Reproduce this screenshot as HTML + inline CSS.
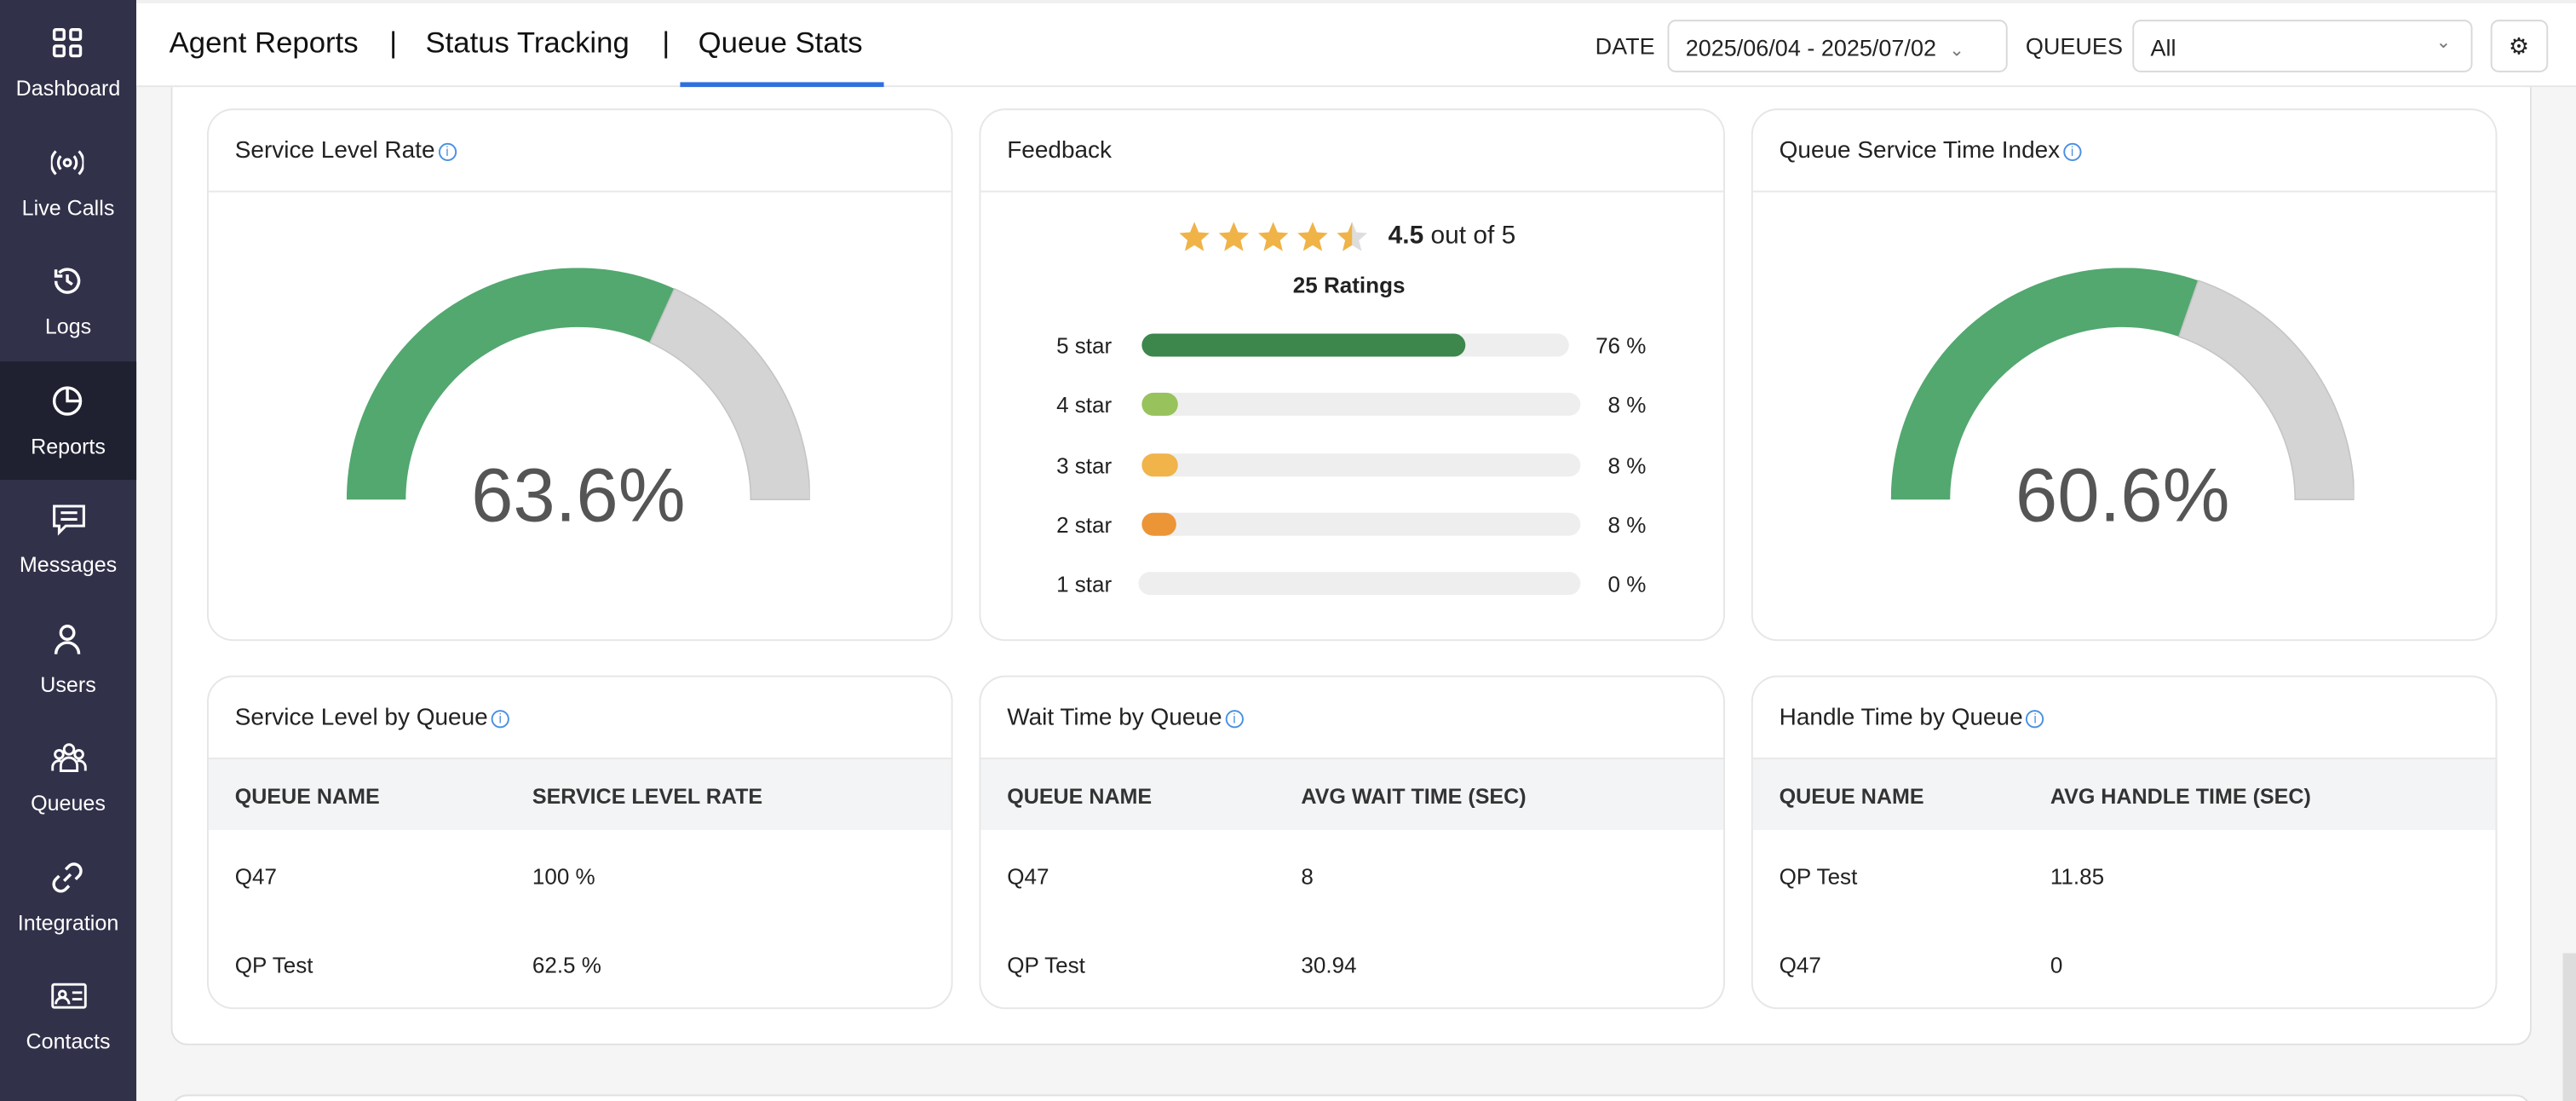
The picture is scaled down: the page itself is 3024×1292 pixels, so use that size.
<!DOCTYPE html>
<html><head><meta charset="utf-8">
<style>
*{box-sizing:border-box;margin:0;padding:0}
html,body{width:3024px;height:1292px;max-height:1292px;overflow:hidden;background:#f5f5f6;font-family:"Liberation Sans",sans-serif}
#r{position:absolute;left:0;top:0;width:1568px;height:670px;overflow:hidden;transform:scale(1.92857);transform-origin:0 0;background:#f5f5f6}
.a{position:absolute}
.side{left:0;top:0;width:83px;height:670px;background:#31314a}
.it{position:absolute;left:0;width:83px;height:72px;color:#fff;font-size:13px;text-align:center}
.it svg{position:absolute;left:31px;top:14px}
.it span{position:absolute;left:0;right:0;top:44px}
.top{left:83px;top:0;width:1485px;height:53px;background:#fff;border-bottom:1px solid #e6e6e6;border-top:2px solid #f0f0f0}
.tab{font-size:18px;color:#111;top:14px}
.lbl{font-size:14px;color:#222;top:18px}
.sel{top:10px;height:32px;border:1px solid #d9d9d9;border-radius:5px;background:#fff;font-size:14px;color:#222;padding:8px 10px}
.card{background:#fff;border:1px solid #e6e6e6;border-radius:16px;overflow:hidden}
.ch{position:absolute;left:0;right:0;top:0;height:50px;border-bottom:1px solid #e8e8e8;font-size:14.5px;color:#222;padding:17px 16px}
.info{display:inline-block;width:11px;height:11px;border:1px solid #4a90e2;border-radius:50%;color:#4a90e2;font-size:8px;line-height:9px;text-align:center;vertical-align:1px;margin-left:2px}
.th{position:absolute;left:0;right:0;top:50px;height:43px;background:#f3f4f6;font-size:13px;color:#333;font-weight:bold}
.th span,.tr span{position:absolute;top:15px}
.tr{position:absolute;left:0;right:0;height:30px;font-size:13.5px;color:#222}
.big{font-size:46px;color:#555;text-align:center;width:300px}
.rl{font-size:13.5px;color:#222}
.bar{height:14px;border-radius:7px;background:#eee}
.fill{position:absolute;left:0;top:0;height:14px;border-radius:7px}
.pc{font-size:13.5px;color:#222;text-align:right;width:50px}
</style></head><body><div id="r">
<div class="a side">
<div class="it" style="top:2px"><svg width="20" height="20" viewBox="0 0 20 20" fill="none" stroke="#fff" stroke-width="1.8"><rect x="2" y="2" width="6" height="6" rx="1"/><rect x="12" y="2" width="6" height="6" rx="1"/><rect x="2" y="12" width="6" height="6" rx="1"/><rect x="12" y="12" width="6" height="6" rx="1"/></svg><span>Dashboard</span></div>
<div class="it" style="top:75px"><svg width="20" height="20" viewBox="0 0 20 20" fill="none" stroke="#fff" stroke-width="1.6"><circle cx="10" cy="10" r="2"/><path d="M6 6a6 6 0 0 0 0 8M14 6a6 6 0 0 1 0 8M3 3a10 10 0 0 0 0 14M17 3a10 10 0 0 1 0 14"/></svg><span>Live Calls</span></div>
<div class="it" style="top:147px"><svg width="20" height="20" viewBox="0 0 20 20" fill="none" stroke="#fff" stroke-width="1.8"><path d="M3 10a7 7 0 1 0 2-5M3 3v4h4M10 6v4l3 2"/></svg><span>Logs</span></div>
<div class="it" style="top:220px;background:#1f2030"><svg width="20" height="20" viewBox="0 0 20 20" fill="none" stroke="#fff" stroke-width="1.8"><circle cx="10" cy="10" r="8"/><path d="M10 2v8h8"/></svg><span>Reports</span></div>
<div class="it" style="top:292px"><svg width="22" height="20" viewBox="0 0 22 20" fill="none" stroke="#fff" stroke-width="1.6"><path d="M2 2h18v12H9l-4 4v-4H2z M6 6h10M6 10h10"/></svg><span>Messages</span></div>
<div class="it" style="top:365px"><svg width="20" height="20" viewBox="0 0 20 20" fill="none" stroke="#fff" stroke-width="1.8"><circle cx="10" cy="6" r="4"/><path d="M3 19a7 7 0 0 1 14 0"/></svg><span>Users</span></div>
<div class="it" style="top:437px"><svg width="22" height="20" viewBox="0 0 22 20" fill="none" stroke="#fff" stroke-width="1.5"><circle cx="11" cy="5" r="3"/><circle cx="5" cy="8" r="2.5"/><circle cx="17" cy="8" r="2.5"/><path d="M6 18v-3a5 5 0 0 1 10 0v3zM1 18v-2a4 4 0 0 1 5-4M21 18v-2a4 4 0 0 0-5-4"/></svg><span>Queues</span></div>
<div class="it" style="top:510px"><svg width="20" height="20" viewBox="0 0 20 20" fill="none" stroke="#fff" stroke-width="1.8"><path d="M8 12l4-4M9 5l2-2a4 4 0 0 1 6 6l-2 2M11 15l-2 2a4 4 0 0 1-6-6l2-2"/></svg><span>Integration</span></div>
<div class="it" style="top:582px"><svg width="22" height="20" viewBox="0 0 22 20" fill="none" stroke="#fff" stroke-width="1.5"><rect x="1" y="3" width="20" height="14" rx="1"/><circle cx="7" cy="9" r="2"/><path d="M3 15a4 4 0 0 1 8 0M13 8h6M13 12h6"/></svg><span>Contacts</span></div>
<div class="it" style="top:655px"><svg width="20" height="20" viewBox="0 0 20 20" fill="none" stroke="#fff" stroke-width="1.8"><rect x="3" y="2" width="14" height="16" rx="1"/></svg></div>
</div>
<div class="a top">
<div class="a tab" style="left:20px">Agent Reports</div>
<div class="a tab" style="left:154px">|</div>
<div class="a tab" style="left:176px">Status Tracking</div>
<div class="a tab" style="left:320px">|</div>
<div class="a tab" style="left:342px">Queue Stats</div>
<div class="a" style="left:331px;top:48px;width:124px;height:3px;background:#2f6fde"></div>
<div class="a lbl" style="left:888px">DATE</div>
<div class="a sel" style="left:932px;width:207px">2025/06/04 - 2025/07/02 <span style="color:#777;font-size:11px;margin-left:4px">&#8964;</span></div>
<div class="a lbl" style="left:1150px">QUEUES</div>
<div class="a sel" style="left:1215px;width:207px">All<span style="position:absolute;right:12px;top:6px;color:#777;font-size:11px">&#8964;</span></div>
<div class="a sel" style="left:1433px;width:35px;padding:7px 10px;font-size:14px">&#9881;</div>
</div>
<div class="a" style="left:104px;top:53px;width:1437px;height:583px;background:#fff;border:1px solid #e0e0e0;border-top:none;border-radius:0 0 10px 10px"></div>
<div class="a" style="left:104px;top:666px;width:1437px;height:20px;background:#fff;border:1px solid #e0e0e0;border-radius:10px"></div>
<div class="a" style="left:1560px;top:580px;width:8px;height:90px;background:#ddd"></div>

<div class="a card" style="left:126px;top:66px;width:454px;height:324px"><div class="ch">Service Level Rate<span class="info">i</span></div></div>
<svg class="a" style="left:211px;top:163px" width="282" height="142" viewBox="0 0 282 142"><path d="M0,141 A141,141 0 0 1 199.5,12.7 L184.6,45.5 A105,105 0 0 0 36,141 Z" fill="#52a86f"/><path d="M199.5,12.7 A141,141 0 0 1 282,141 L246,141 A105,105 0 0 0 184.6,45.5 Z" fill="#d4d4d4" stroke="#c4c4c4" stroke-width="0.8"/></svg>
<div class="a big" style="left:202px;top:274px">63.6%</div>

<div class="a card" style="left:596px;top:66px;width:454px;height:324px"><div class="ch">Feedback</div></div>
<svg class="a" style="left:716px;top:134px" width="120" height="22" viewBox="0 0 120 22">
<defs><path id="s" d="M10 1l2.6 6.3 6.6.5-5 4.4 1.6 6.6L10 15.2 4.2 18.8l1.6-6.6-5-4.4 6.6-.5z"/></defs>
<use href="#s" x="1" fill="#f0b347"/><use href="#s" x="25" fill="#f0b347"/><use href="#s" x="49" fill="#f0b347"/><use href="#s" x="73" fill="#f0b347"/>
<g transform="translate(97,0)"><use href="#s" fill="#ddd"/><path d="M10 1L7.4 7.3.8 7.8l5 4.4-1.6 6.6L10 15.2z" fill="#f0b347"/></g></svg>
<div class="a" style="left:845px;top:135px;font-size:15.5px;color:#222"><b>4.5</b> out of 5</div>
<div class="a" style="left:787px;top:166px;font-size:13.5px;font-weight:bold;color:#222">25 Ratings</div>
<div class="a rl" style="left:643px;top:203px">5 star</div><div class="a bar" style="left:695px;top:203px;width:260px"><div class="fill" style="width:197px;background:#3d864c"></div></div><div class="a pc" style="left:952px;top:203px">76 %</div>
<div class="a rl" style="left:643px;top:239px">4 star</div><div class="a bar" style="left:695px;top:239px;width:267px"><div class="fill" style="width:22px;background:#98c25c"></div></div><div class="a pc" style="left:952px;top:239px">8 %</div>
<div class="a rl" style="left:643px;top:276px">3 star</div><div class="a bar" style="left:695px;top:276px;width:267px"><div class="fill" style="width:22px;background:#f0b44b"></div></div><div class="a pc" style="left:952px;top:276px">8 %</div>
<div class="a rl" style="left:643px;top:312px">2 star</div><div class="a bar" style="left:695px;top:312px;width:267px"><div class="fill" style="width:21px;background:#ec9537"></div></div><div class="a pc" style="left:952px;top:312px">8 %</div>
<div class="a rl" style="left:643px;top:348px">1 star</div><div class="a bar" style="left:693px;top:348px;width:269px"></div><div class="a pc" style="left:952px;top:348px">0 %</div>

<div class="a card" style="left:1066px;top:66px;width:454px;height:324px"><div class="ch">Queue Service Time Index<span class="info">i</span></div></div>
<svg class="a" style="left:1151px;top:163px" width="282" height="142" viewBox="0 0 282 142"><path d="M0,141 A141,141 0 0 1 187.1,7.7 L175.3,41.8 A105,105 0 0 0 36,141 Z" fill="#52a86f"/><path d="M187.1,7.7 A141,141 0 0 1 282,141 L246,141 A105,105 0 0 0 175.3,41.8 Z" fill="#d4d4d4" stroke="#c4c4c4" stroke-width="0.8"/></svg>
<div class="a big" style="left:1142px;top:274px">60.6%</div>

<div class="a card" style="left:126px;top:411px;width:454px;height:203px"><div class="ch">Service Level by Queue<span class="info">i</span></div>
<div class="th"><span style="left:16px">QUEUE NAME</span><span style="left:197px">SERVICE LEVEL RATE</span></div>
<div class="tr" style="top:99px"><span style="left:16px">Q47</span><span style="left:197px">100 %</span></div>
<div class="tr" style="top:153px"><span style="left:16px">QP Test</span><span style="left:197px">62.5 %</span></div></div>

<div class="a card" style="left:596px;top:411px;width:454px;height:203px"><div class="ch">Wait Time by Queue<span class="info">i</span></div>
<div class="th"><span style="left:16px">QUEUE NAME</span><span style="left:195px">AVG WAIT TIME (SEC)</span></div>
<div class="tr" style="top:99px"><span style="left:16px">Q47</span><span style="left:195px">8</span></div>
<div class="tr" style="top:153px"><span style="left:16px">QP Test</span><span style="left:195px">30.94</span></div></div>

<div class="a card" style="left:1066px;top:411px;width:454px;height:203px"><div class="ch">Handle Time by Queue<span class="info">i</span></div>
<div class="th"><span style="left:16px">QUEUE NAME</span><span style="left:181px">AVG HANDLE TIME (SEC)</span></div>
<div class="tr" style="top:99px"><span style="left:16px">QP Test</span><span style="left:181px">11.85</span></div>
<div class="tr" style="top:153px"><span style="left:16px">Q47</span><span style="left:181px">0</span></div></div>
</div></body></html>
